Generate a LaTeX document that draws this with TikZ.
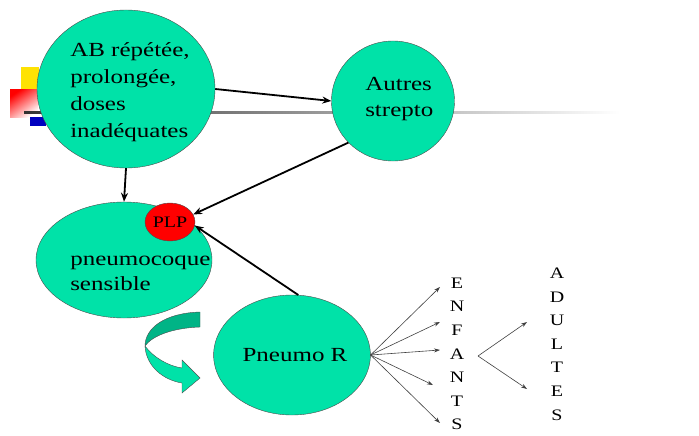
\documentclass[tikz,border=0pt]{standalone}
\usepackage{graphicx}
\usepackage{fontspec}
\setmainfont{Liberation Serif}
\usetikzlibrary{arrows.meta,positioning,shapes.geometric}
\definecolor{menthe}{RGB}{0,226,168}
\definecolor{menthefonce}{RGB}{0,180,134}
\newcommand{\etire}[1]{\scalebox{1.25}[1]{#1}}

\begin{document}
\begin{tikzpicture}[x=1pt, y=-1pt,
  bulle/.style={ellipse, draw=black!70, fill=menthe, inner sep=0pt},
  texte/.style={inner sep=0pt, align=left, anchor=base west, xscale=1.25, transform shape,
                font=\fontsize{20}{27}\selectfont},
  fleche/.style={-{Stealth[length=9pt,width=7pt]}, line width=1.8pt},
  fine/.style={-{Stealth[length=6pt,width=4pt]}, line width=0.6pt, black!75},
  lettres/.style={inner sep=0pt, align=center, xscale=1.25, transform shape,
                  font=\fontsize{16}{23.6}\selectfont}]
  \useasboundingbox (0,0) rectangle (699,436);

  % decor du titre
  \fill[yellow!85!orange] (21,67) rectangle (39,90);
  \shade[top color=red, bottom color=white, shading angle=35] (10,90) rectangle (38,117);
  \fill[blue!75!black] (30,117) rectangle (46,126);
  \shade[left color=black!80, right color=white] (24,111) rectangle (620,113.5);

  % les bulles
  \node[bulle, minimum width=178pt, minimum height=158pt] (ab) at (126,89) {};
  \node[texte] (abtxt) at (70,137) {AB répétée,\\prolongée,\\doses\\inadéquates};
  \node[bulle, minimum width=123pt, minimum height=120pt] (autres) at (393,101) {};
  \node[texte] (autrestxt) at (365,117) {Autres\\strepto};
  \node[bulle, minimum width=176pt, minimum height=116pt] (pneumo) at (124,260) {};
  \node[texte, font=\fontsize{20}{25}\selectfont] (pneumotxt) at (70,290) {pneumocoque\\sensible};
  \node[ellipse, draw=black!70, fill=red, minimum width=50pt, minimum height=38pt, inner sep=0pt,
        font=\fontsize{16}{16}\selectfont] (plp) at (170,222) {\etire{PLP}};
  \node[bulle, minimum width=154pt, minimum height=120pt, font=\fontsize{20}{27}\selectfont]
        (pneumor) at (292,355) {\hspace{6pt}\etire{Pneumo R}};

  % fleche courbe
  \filldraw[fill=menthefonce, draw=black!70, line width=0.4pt]
    (200,312) .. controls (165,313) and (145,328) .. (145,346)
    .. controls (152,336) and (172,328) .. (200,327) -- cycle;
  \filldraw[fill=menthe, draw=black!70, line width=0.4pt]
    (145,346) .. controls (146,366) and (163,380) .. (182,383)
    -- (182,393) -- (200,378) -- (182,360) -- (182,368)
    .. controls (168,366) and (153,357) .. (145,346);

  % liens
  \draw[fleche] (ab.east) -- (autres.west);
  \draw[fleche] (ab.south) -- (pneumo.north);
  \draw[fleche] (autres.223) -- (plp.18);
  \draw[fleche] (pneumor.84) -- (plp.-8);

  % enfants / adultes
  \foreach \i/\x/\y in {1/440/287, 2/440/322, 3/440/350, 4/433/385, 5/440/423}{
    \coordinate (e\i) at (\x,\y);
    \draw[fine] (pneumor.east) -- (e\i);
  }
  \node[lettres] (enfants) at (457,354) {E\\N\\F\\A\\N\\T\\S};
  \coordinate (v) at (478,356);
  \coordinate (a1) at (527,322);
  \coordinate (a2) at (527,389);
  \draw[fine] (v) -- (a1);
  \draw[fine] (v) -- (a2);
  \node[lettres] (adultes) at (557,344) {A\\D\\U\\L\\T\\E\\S};
\end{tikzpicture}
\end{document}
